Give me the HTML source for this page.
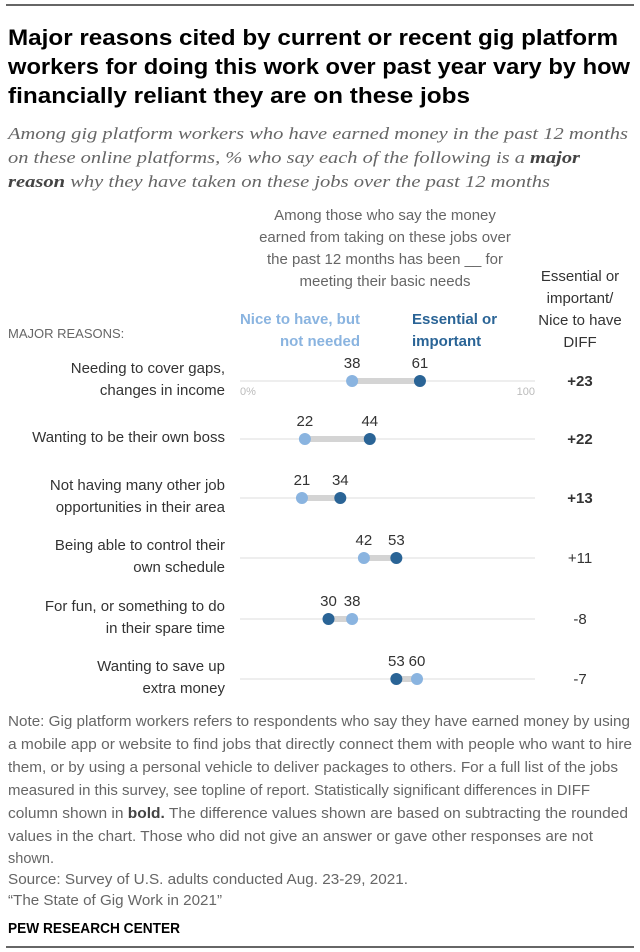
<!DOCTYPE html>
<html><head><meta charset="utf-8"><style>
body{margin:0;background:#fff}
svg{display:block;font-family:"Liberation Sans",sans-serif}
</style></head><body>
<svg id="chart" width="640" height="952" viewBox="0 0 640 952">
<line x1="6" y1="5" x2="634" y2="5" stroke="#333" stroke-width="1.5"/>
<g font-weight="bold" font-size="22" fill="#000">
<text x="8" y="45" textLength="610" lengthAdjust="spacingAndGlyphs">Major reasons cited by current or recent gig platform</text>
<text x="8" y="74" textLength="622" lengthAdjust="spacingAndGlyphs">workers for doing this work over past year vary by how</text>
<text x="8" y="103" textLength="462" lengthAdjust="spacingAndGlyphs">financially reliant they are on these jobs</text>
</g>
<g font-family="Liberation Serif,serif" font-style="italic" font-size="17" fill="#666">
<text x="8" y="139" textLength="620" lengthAdjust="spacingAndGlyphs">Among gig platform workers who have earned money in the past 12 months</text>
<text x="8" y="163" textLength="572" lengthAdjust="spacingAndGlyphs">on these online platforms, % who say each of the following is a <tspan font-weight="bold" fill="#444">major</tspan></text>
<text x="8" y="187" textLength="542" lengthAdjust="spacingAndGlyphs"><tspan font-weight="bold" fill="#444">reason</tspan> why they have taken on these jobs over the past 12 months</text>
</g>
<g font-size="15" fill="#666" text-anchor="middle">
<text x="385" y="220">Among those who say the money</text>
<text x="385" y="242">earned from taking on these jobs over</text>
<text x="385" y="264">the past 12 months has been __ for</text>
<text x="385" y="286">meeting their basic needs</text>
</g>
<g font-size="15" fill="#333" text-anchor="middle">
<text x="580" y="281">Essential or</text>
<text x="580" y="303">important/</text>
<text x="580" y="325">Nice to have</text>
<text x="580" y="347">DIFF</text>
</g>
<text x="8" y="338" font-size="13" fill="#666">MAJOR REASONS:</text>
<g font-size="15" font-weight="bold" fill="#8ab4e0" text-anchor="end">
<text x="360" y="324">Nice to have, but</text>
<text x="360" y="346">not needed</text>
</g>
<g font-size="15" font-weight="bold" fill="#2a6496">
<text x="412" y="324">Essential or</text>
<text x="412" y="346">important</text>
</g>
<g id="rows"></g>
<g font-size="14.5" fill="#666">
<text x="8" y="726" textLength="622" lengthAdjust="spacingAndGlyphs">Note: Gig platform workers refers to respondents who say they have earned money by using</text>
<text x="8" y="749" textLength="624" lengthAdjust="spacingAndGlyphs">a mobile app or website to find jobs that directly connect them with people who want to hire</text>
<text x="8" y="772" textLength="610" lengthAdjust="spacingAndGlyphs">them, or by using a personal vehicle to deliver packages to others. For a full list of the jobs</text>
<text x="8" y="795" textLength="582" lengthAdjust="spacingAndGlyphs">measured in this survey, see topline of report. Statistically significant differences in DIFF</text>
<text x="8" y="818" textLength="620" lengthAdjust="spacingAndGlyphs">column shown in <tspan font-weight="bold" fill="#444">bold.</tspan> The difference values shown are based on subtracting the rounded</text>
<text x="8" y="841" textLength="585" lengthAdjust="spacingAndGlyphs">values in the chart. Those who did not give an answer or gave other responses are not</text>
<text x="8" y="863" textLength="46" lengthAdjust="spacingAndGlyphs">shown.</text>
<text x="8" y="884" textLength="400" lengthAdjust="spacingAndGlyphs">Source: Survey of U.S. adults conducted Aug. 23-29, 2021.</text>
<text x="8" y="905" textLength="214" lengthAdjust="spacingAndGlyphs">“The State of Gig Work in 2021”</text>
</g>
<text x="8" y="933" font-size="14.5" font-weight="bold" fill="#000" textLength="172" lengthAdjust="spacingAndGlyphs">PEW RESEARCH CENTER</text>
<line x1="6" y1="947" x2="634" y2="947" stroke="#333" stroke-width="1.5"/>
</svg>
<script>
const categories=[["Needing to cover gaps,","changes in income"],["Wanting to be their own boss"],["Not having many other job","opportunities in their area"],["Being able to control their","own schedule"],["For fun, or something to do","in their spare time"],["Wanting to save up","extra money"]];
const niceValues=[38,22,21,42,38,60];
const essentialValues=[61,44,34,53,30,53];
const diffLabels=["+23","+22","+13","+11","-8","-7"];
const diffBold=[true,true,true,false,false,false];
const axisTicks=["0%","100"];
const NS="http://www.w3.org/2000/svg";
const rowY=[381,439,498,558,619,679];
const x=v=>240+v*2.95;
const g=document.getElementById('rows');
function mk(t,a,p){const e=document.createElementNS(NS,t);for(const k in a)e.setAttribute(k,a[k]);(p||g).appendChild(e);return e;}
categories.forEach((c,i)=>{
 const y=rowY[i];
 const row=mk('g',{});
 
 
 const base=mk('line',{x1:x(0),x2:x(100),y1:y,y2:y,stroke:'#ddd','stroke-width':1},row);
 
 
 const lbl=mk('text',{x:225,'font-size':15,fill:'#333','text-anchor':'end'},row);
 
 
 const ys=c.length===1?[y+3]:[y-8,y+14];
 c.forEach((s,j)=>{const ts=mk('tspan',{x:225,y:ys[j]},lbl);ts.textContent=s;});
 const a=niceValues[i],b=essentialValues[i];
 const con=mk('line',{x1:x(a),x2:x(b),y1:y,y2:y,stroke:'#d4d4d4','stroke-width':6},row);
 
 
 [[a,'#8ab4e0','nice-dot'],[b,'#2a6496','essential-dot']].forEach(([v,col,n])=>{
  const d=mk('circle',{cx:x(v),cy:y,r:6,fill:col},row);
  
  
  const t=mk('text',{x:x(v),y:y-13,'font-size':15,fill:'#333','text-anchor':'middle'},row);
  
  
  t.textContent=v;
 });
 const df=mk('text',{x:580,y:y+5,'font-size':15,fill:'#333','text-anchor':'middle','font-weight':diffBold[i]?'bold':'normal'},row);
 
 
 df.textContent=diffLabels[i];
});
[[0,'start'],[100,'end']].forEach(([v,an],k)=>{
 const t=mk('text',{x:x(v),y:rowY[0]+14,'font-size':11,fill:'#bbb','text-anchor':an});
 
 
 t.textContent=axisTicks[k];
});
</script>
</body></html>
